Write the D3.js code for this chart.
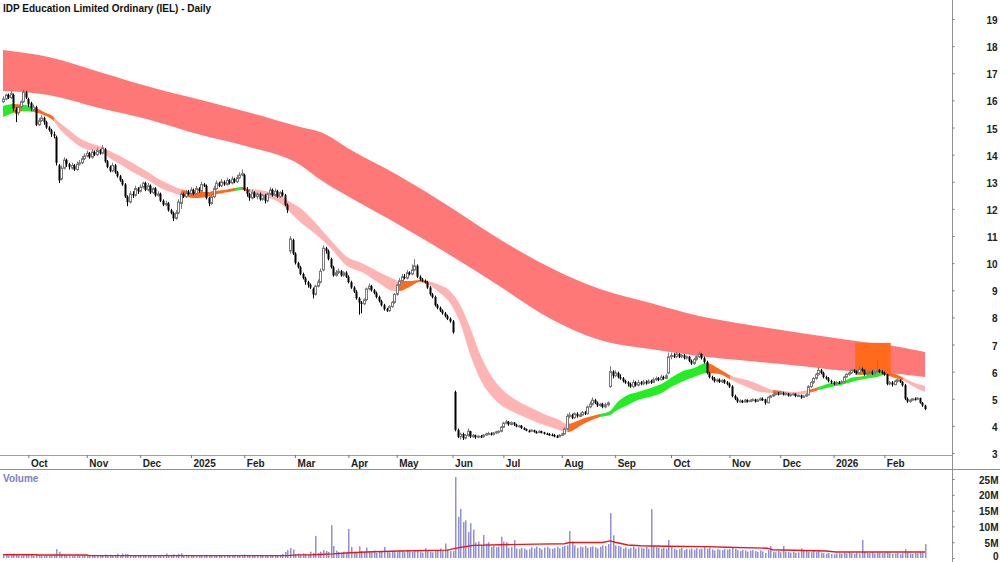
<!DOCTYPE html>
<html><head><meta charset="utf-8">
<script src="https://cdn.jsdelivr.net/npm/d3@7"></script>
<style>
html,body{margin:0;padding:0;background:#fff;}
svg{display:block;font-family:"Liberation Sans",Arial,sans-serif;}
</style></head><body>
<svg id="chart" width="1000" height="562"></svg>
<script>
// ---------------- DATA ----------------
const title = "IDP Education Limited Ordinary (IEL) - Daily";
const firstDay = "2024-09-17", lastDay = "2026-02-24";
const holidays = ["2024-12-25","2024-12-26","2025-01-01","2025-01-27","2025-04-18","2025-04-21","2025-04-25","2025-06-09","2025-12-25","2025-12-26","2026-01-01","2026-01-26"];
const monthLabels = ["Oct","Nov","Dec","2025","Feb","Mar","Apr","May","Jun","Jul","Aug","Sep","Oct","Nov","Dec","2026","Feb"];
const priceTicks = [3,4,5,6,7,8,9,10,11,12,13,14,15,16,17,18,19];
const volTicks = [0,5,10,15,20,25];

// daily OHLC, one line per month (Sep 2024 ... Feb 2026)
const open = [
15.95,16.05,16.20,16.10,16.20,15.65,15.55,15.75,15.95,16.30,
16.05,15.90,15.65,15.75,15.10,15.25,15.35,15.20,15.00,14.90,14.75,14.65,13.60,13.10,13.50,13.80,13.65,13.50,13.60,13.45,13.65,13.70,13.85,
13.95,14.05,13.90,14.10,14.00,14.15,14.05,14.20,13.75,13.55,13.40,13.60,13.35,13.20,13.05,12.90,12.45,12.25,12.55,12.50,12.75,
12.65,12.80,12.95,12.70,12.85,12.60,12.75,12.50,12.55,12.30,12.15,12.20,11.95,11.85,11.65,11.85,12.20,12.55,12.45,12.60,
12.55,12.70,12.55,12.75,12.65,12.90,12.85,12.40,12.20,12.45,12.75,12.95,12.85,13.00,12.90,13.05,12.95,13.10,13.00,13.15,13.25,
13.25,12.70,12.55,12.40,12.60,12.45,12.55,12.35,12.50,12.30,12.55,12.70,12.50,12.65,12.45,12.60,12.50,12.15,10.45,10.85,
10.35,10.00,9.85,9.60,9.45,9.30,9.20,9.05,8.85,9.15,9.30,9.75,10.55,10.45,10.15,9.85,9.55,9.65,9.70,9.55,9.65,
9.50,9.30,9.10,8.95,8.70,8.55,8.50,8.65,9.05,9.15,9.00,8.90,8.75,8.60,8.45,8.30,8.25,8.40,8.55,
8.85,9.20,9.35,9.50,9.45,9.65,9.60,9.75,9.90,9.50,9.40,9.35,9.30,9.10,8.85,8.75,8.45,8.35,8.25,8.15,8.05,7.95,
7.85,5.25,3.85,3.60,3.70,3.55,3.65,3.80,3.60,3.65,3.58,3.62,3.60,3.66,3.70,3.72,3.68,3.74,3.78,3.80,
3.95,4.10,4.15,4.05,4.12,4.05,3.98,4.00,3.92,3.88,3.82,3.80,3.84,3.78,3.75,3.80,3.76,3.72,3.70,3.68,3.66,3.62,3.60,
3.65,3.70,3.90,4.35,4.40,4.30,4.45,4.35,4.40,4.50,4.45,4.70,4.80,4.95,4.85,4.75,4.80,4.70,4.78,5.45,6.00,
5.85,5.95,5.80,5.75,5.65,5.60,5.55,5.45,5.60,5.50,5.60,5.55,5.62,5.58,5.65,5.60,5.70,5.75,5.70,5.80,5.75,5.95,
6.55,6.60,6.55,6.65,6.55,6.60,6.50,6.55,6.40,6.30,6.45,6.55,6.65,6.50,6.35,5.95,5.80,5.75,5.65,5.70,5.62,5.68,5.60,
5.55,5.45,5.10,5.00,4.90,4.92,4.88,4.95,4.90,4.93,4.97,4.90,4.95,5.00,4.98,4.85,5.05,5.10,5.15,5.20,
5.18,5.22,5.15,5.20,5.12,5.15,5.18,5.10,5.12,5.05,5.10,5.15,5.45,5.60,5.75,5.90,6.05,5.95,5.80,5.75,5.65,
5.60,5.55,5.60,5.58,5.62,5.80,5.90,5.95,6.05,6.00,5.95,6.10,6.05,5.90,5.95,6.00,5.92,5.98,6.05,6.00,
5.95,5.90,5.55,5.60,5.52,5.65,5.70,5.62,5.50,5.00,4.90,4.95,5.00,4.98,5.02,4.85,4.75];
const high = [
16.15,16.25,16.25,16.35,16.25,15.75,15.80,16.00,16.40,16.35,
16.10,15.95,15.85,15.80,15.35,15.45,15.40,15.25,15.05,14.95,14.85,14.70,13.65,13.60,13.90,13.85,13.70,13.70,13.65,13.75,13.80,13.95,14.05,
14.15,14.10,14.20,14.15,14.25,14.20,14.35,14.25,13.80,13.60,13.70,13.65,13.40,13.25,13.10,12.95,12.50,12.65,12.65,12.85,12.80,
12.90,13.00,13.00,12.95,12.90,12.80,12.80,12.65,12.60,12.35,12.30,12.25,12.00,11.90,11.95,12.35,12.65,12.60,12.70,12.70,
12.80,12.75,12.85,12.80,13.00,12.95,12.90,12.45,12.55,12.85,13.05,13.00,13.10,13.05,13.15,13.10,13.20,13.15,13.25,13.35,13.45,
13.30,12.80,12.60,12.70,12.65,12.60,12.60,12.55,12.55,12.60,12.80,12.75,12.75,12.70,12.65,12.70,12.55,12.20,11.00,10.90,
10.40,10.05,9.90,9.65,9.50,9.35,9.25,9.10,9.20,9.40,9.80,10.65,10.60,10.50,10.20,9.90,9.75,9.80,9.75,9.70,9.70,
9.55,9.35,9.15,9.00,8.75,8.60,8.70,9.10,9.25,9.20,9.05,8.95,8.80,8.65,8.50,8.35,8.45,8.60,8.90,
9.25,9.45,9.60,9.60,9.75,9.70,9.95,10.15,9.95,9.55,9.45,9.40,9.35,9.15,8.90,8.80,8.50,8.40,8.30,8.20,8.10,8.00,
7.90,5.30,3.90,3.75,3.75,3.70,3.90,3.82,3.70,3.68,3.66,3.66,3.70,3.75,3.78,3.76,3.78,3.82,3.84,4.00,
4.15,4.22,4.18,4.16,4.14,4.08,4.04,4.03,3.95,3.90,3.86,3.88,3.86,3.82,3.84,3.82,3.78,3.75,3.74,3.72,3.70,3.66,3.70,
3.75,3.95,4.45,4.50,4.45,4.50,4.50,4.48,4.55,4.55,4.75,4.90,5.05,5.00,4.90,4.85,4.85,4.85,4.90,6.20,6.05,
6.05,6.00,5.90,5.80,5.70,5.65,5.60,5.70,5.65,5.70,5.65,5.70,5.68,5.72,5.70,5.78,5.82,5.80,5.88,5.85,5.92,6.70,
6.70,6.68,6.72,6.68,6.65,6.65,6.60,6.58,6.45,6.50,6.60,6.75,6.68,6.55,6.40,6.00,5.85,5.80,5.75,5.75,5.72,5.72,5.65,
5.60,5.50,5.15,5.05,4.98,4.96,5.00,4.98,4.98,5.02,5.00,5.00,5.05,5.05,5.00,5.08,5.15,5.20,5.25,5.25,
5.28,5.26,5.24,5.22,5.20,5.22,5.20,5.16,5.15,5.14,5.20,5.50,5.65,5.80,5.95,6.15,6.10,6.00,5.85,5.80,5.70,
5.65,5.65,5.65,5.68,5.85,5.95,6.00,6.10,6.10,6.05,6.20,6.15,6.08,6.00,6.05,6.05,6.05,6.40,6.10,6.05,
6.00,5.92,5.65,5.65,5.70,5.75,5.72,5.65,5.55,5.05,4.98,5.02,5.05,5.06,5.04,4.88,4.78];
const low = [
15.90,16.00,16.05,16.05,15.60,15.20,15.45,15.70,15.90,16.05,
15.75,15.60,15.60,15.05,15.05,15.20,15.10,14.95,14.85,14.65,14.60,13.60,12.95,13.05,13.45,13.55,13.45,13.45,13.40,13.40,13.60,13.65,13.80,
13.90,13.85,13.85,13.95,13.95,14.00,14.00,13.70,13.50,13.35,13.35,13.30,13.15,13.00,12.85,12.40,12.10,12.20,12.40,12.45,12.55,
12.60,12.75,12.65,12.65,12.55,12.55,12.45,12.45,12.25,12.10,12.10,11.90,11.80,11.55,11.60,11.80,12.00,12.40,12.40,12.50,
12.50,12.50,12.50,12.60,12.60,12.80,12.35,12.10,12.15,12.40,12.70,12.80,12.80,12.85,12.85,12.90,12.90,12.95,12.95,13.10,13.20,
12.65,12.45,12.30,12.35,12.40,12.35,12.30,12.30,12.20,12.25,12.50,12.45,12.45,12.40,12.40,12.45,12.10,11.85,10.35,10.30,
9.95,9.80,9.55,9.40,9.20,9.10,9.05,8.70,8.80,9.10,9.25,9.70,10.35,10.10,9.80,9.50,9.50,9.60,9.50,9.50,9.45,
9.25,9.05,8.90,8.65,8.10,8.15,8.45,8.60,9.00,8.95,8.85,8.70,8.55,8.40,8.25,8.20,8.20,8.35,8.50,
8.80,9.15,9.30,9.40,9.40,9.55,9.55,9.70,9.45,9.35,9.30,9.25,9.05,8.80,8.70,8.40,8.30,8.20,8.10,8.00,7.90,7.80,
7.40,3.80,3.55,3.50,3.48,3.50,3.60,3.55,3.56,3.52,3.55,3.55,3.57,3.63,3.66,3.64,3.65,3.70,3.72,3.76,
3.92,4.05,4.00,4.02,4.00,3.95,3.94,3.88,3.84,3.80,3.76,3.78,3.75,3.72,3.74,3.72,3.68,3.66,3.64,3.62,3.58,3.55,3.58,
3.62,3.68,3.85,4.28,4.25,4.25,4.30,4.32,4.38,4.40,4.42,4.65,4.75,4.80,4.70,4.70,4.65,4.65,4.72,5.40,5.75,
5.80,5.75,5.70,5.60,5.55,5.45,5.40,5.40,5.45,5.45,5.50,5.50,5.52,5.55,5.55,5.58,5.65,5.65,5.68,5.70,5.72,5.90,
6.45,6.50,6.50,6.50,6.50,6.45,6.45,6.35,6.25,6.25,6.40,6.50,6.45,6.30,5.90,5.75,5.68,5.60,5.60,5.58,5.58,5.55,5.50,
5.40,5.05,4.95,4.85,4.86,4.84,4.86,4.86,4.88,4.90,4.86,4.88,4.92,4.92,4.78,4.84,5.02,5.06,5.12,5.12,
5.14,5.12,5.12,5.08,5.08,5.12,5.06,5.06,5.00,5.02,5.06,5.12,5.40,5.55,5.70,5.85,5.90,5.75,5.70,5.60,5.55,
5.50,5.52,5.54,5.55,5.60,5.78,5.85,5.92,5.95,5.90,5.92,6.00,5.85,5.86,5.92,5.88,5.90,5.95,5.95,5.90,
5.85,5.50,5.50,5.45,5.50,5.60,5.58,5.45,4.95,4.85,4.85,4.92,4.94,4.96,4.82,4.70,4.58];
const close = [
16.05,16.20,16.10,16.25,15.70,15.50,15.75,15.95,16.30,16.10,
15.85,15.70,15.75,15.10,15.25,15.35,15.20,15.00,14.90,14.75,14.70,13.70,13.05,13.50,13.80,13.65,13.55,13.60,13.45,13.65,13.70,13.85,13.95,
14.05,13.90,14.10,14.00,14.15,14.05,14.25,13.75,13.55,13.40,13.60,13.35,13.20,13.05,12.90,12.45,12.25,12.55,12.50,12.75,12.65,
12.80,12.95,12.70,12.85,12.60,12.75,12.50,12.55,12.30,12.15,12.20,11.95,11.85,11.65,11.85,12.25,12.55,12.45,12.60,12.55,
12.70,12.55,12.75,12.65,12.90,12.85,12.40,12.20,12.45,12.75,12.95,12.85,13.00,12.90,13.05,12.95,13.10,13.00,13.15,13.25,13.30,
12.70,12.55,12.40,12.60,12.45,12.55,12.35,12.50,12.30,12.55,12.70,12.50,12.65,12.45,12.60,12.50,12.15,11.95,10.90,10.35,
10.00,9.85,9.60,9.45,9.30,9.20,9.10,8.85,9.15,9.30,9.70,10.55,10.45,10.15,9.85,9.55,9.65,9.70,9.55,9.65,9.50,
9.30,9.10,8.95,8.70,8.55,8.50,8.65,9.05,9.15,9.00,8.90,8.75,8.60,8.45,8.30,8.25,8.40,8.55,8.85,
9.20,9.35,9.50,9.45,9.65,9.60,9.75,9.90,9.50,9.40,9.35,9.30,9.10,8.85,8.75,8.45,8.35,8.25,8.15,8.05,7.95,7.85,
7.45,3.85,3.60,3.70,3.55,3.65,3.80,3.60,3.65,3.58,3.62,3.60,3.66,3.70,3.72,3.68,3.74,3.78,3.80,3.95,
4.10,4.15,4.05,4.12,4.05,3.98,4.00,3.92,3.88,3.82,3.80,3.84,3.78,3.75,3.80,3.76,3.72,3.70,3.68,3.66,3.62,3.60,3.65,
3.70,3.88,4.35,4.40,4.30,4.45,4.35,4.40,4.50,4.45,4.70,4.80,4.95,4.85,4.75,4.80,4.70,4.78,4.85,6.00,5.85,
5.95,5.80,5.75,5.65,5.60,5.55,5.45,5.60,5.50,5.60,5.55,5.62,5.58,5.65,5.60,5.70,5.75,5.70,5.80,5.75,5.85,6.55,
6.60,6.55,6.65,6.55,6.60,6.50,6.55,6.40,6.30,6.45,6.55,6.65,6.50,6.35,5.95,5.80,5.75,5.65,5.70,5.62,5.68,5.60,5.55,
5.45,5.10,5.00,4.90,4.92,4.88,4.95,4.90,4.93,4.97,4.90,4.95,5.00,4.98,4.85,5.05,5.10,5.15,5.20,5.18,
5.22,5.15,5.20,5.12,5.15,5.18,5.10,5.12,5.05,5.10,5.15,5.45,5.60,5.75,5.90,6.05,5.95,5.80,5.75,5.65,5.60,
5.55,5.60,5.58,5.62,5.80,5.90,5.95,6.05,6.00,5.95,6.10,6.05,5.90,5.95,6.00,5.92,5.98,6.05,6.00,5.95,
5.90,5.55,5.60,5.52,5.65,5.70,5.62,5.50,5.00,4.90,4.95,5.00,4.98,5.02,4.85,4.75,4.62];
// daily volume, millions
const volume = [
0.8,1.0,0.7,0.9,1.4,1.1,0.8,0.7,0.9,1.0,
0.9,1.0,0.8,1.2,0.9,0.8,0.7,0.9,0.8,0.8,1.0,2.8,2.0,1.3,1.0,0.9,0.8,0.7,0.8,0.9,0.7,0.8,0.9,
0.8,0.7,0.9,1.0,0.8,0.7,0.9,1.1,0.9,1.0,0.8,0.9,1.3,0.8,1.4,1.3,1.2,0.8,0.9,1.0,0.8,
0.9,0.8,0.7,0.9,0.8,0.7,0.8,0.9,1.0,0.8,1.4,0.9,0.8,1.2,1.0,1.3,1.5,0.7,0.5,0.6,
0.7,0.8,0.6,0.9,0.8,0.7,1.0,0.9,0.8,0.7,0.8,0.9,0.7,0.8,0.6,0.7,0.8,0.7,0.9,0.8,1.0,
1.1,0.9,0.8,0.7,0.8,0.9,0.8,0.7,0.9,0.8,1.0,0.9,0.8,0.9,1.0,1.3,1.9,2.5,3.2,2.7,
1.2,1.4,1.0,1.5,1.3,1.1,2.0,1.6,7.0,1.5,2.0,2.5,2.2,1.9,10.4,3.8,2.3,1.9,1.7,2.0,1.6,
9.2,3.5,2.0,1.8,3.7,2.2,1.9,3.3,2.1,1.8,2.4,1.6,1.9,2.2,3.5,2.0,1.8,2.3,2.1,
2.0,2.4,2.2,1.8,2.6,2.1,1.9,2.5,2.3,2.0,1.7,3.1,2.2,2.0,1.8,2.4,2.6,3.0,2.2,4.6,2.8,2.2,
2.3,25.6,13.0,15.5,11.4,11.9,8.2,11.0,9.0,4.9,5.2,4.0,7.3,4.6,5.0,3.5,3.8,3.4,3.6,6.7,
5.2,5.0,3.2,3.5,5.7,3.0,2.8,3.2,3.0,2.6,2.8,3.4,3.0,3.6,3.2,2.7,3.3,3.5,3.0,2.9,3.2,3.6,3.0,
3.5,3.8,4.0,8.5,5.2,4.0,3.2,3.6,3.4,3.8,3.2,3.5,3.7,3.4,3.0,3.6,4.0,3.8,4.4,14.2,7.2,
4.0,3.8,3.6,3.0,3.4,2.8,3.2,3.6,3.0,3.4,3.2,3.0,3.5,2.9,15.5,3.8,3.4,3.2,3.0,3.3,2.9,5.7,
3.4,3.0,2.6,2.8,3.2,2.5,2.9,2.7,3.0,2.6,3.1,2.8,3.0,3.6,2.9,3.3,2.7,2.4,2.8,2.6,2.5,2.9,2.7,
2.8,3.4,2.9,2.5,2.2,2.6,2.4,2.0,2.3,2.5,2.2,1.9,2.4,2.1,1.6,2.5,3.8,2.0,1.8,2.2,
1.8,3.8,2.0,1.9,1.7,2.0,1.6,1.8,3.0,2.2,2.4,2.0,1.8,2.5,1.9,2.2,1.7,1.5,1.4,1.6,1.3,
1.2,1.4,1.5,1.3,1.6,1.4,1.8,1.5,1.3,1.7,1.4,5.7,1.9,1.6,1.5,1.8,1.4,1.7,1.6,1.5,
1.6,2.0,1.5,1.3,1.4,1.6,1.2,1.5,2.8,1.7,1.4,1.3,1.6,1.5,1.9,1.6,4.4];
// volume average (red line), read at trading-day index
const volAvgAt = [0,13,14,33,34,112,116,122,130,135,143,156,175,179,183,185,196,210,221,223,236,239,241,246,251,261,277,285,301,303,324,328,363];
const volAvg   = [1.05,1.05,0.95,0.95,0.75,0.75,1.0,1.05,1.3,1.6,1.9,2.2,2.5,3.2,3.7,4.0,4.2,4.4,4.5,4.9,4.9,5.4,5.0,4.1,3.9,3.7,3.6,3.4,3.1,2.6,2.2,1.9,1.9];
// long-term average band (edges), read at trading-day index
const longAt    = [0,18,38,58,78,97,117,125,137,156,176,196,215,235,255,274,294,314,333,353,363];
const longUpper = [17.86,17.60,17.05,16.49,16.01,15.55,15.02,14.83,14.17,13.21,12.07,10.85,9.86,9.05,8.53,8.05,7.72,7.42,7.17,6.91,6.72];
const longLower = [16.35,16.20,15.72,15.28,14.72,14.28,13.62,13.07,12.40,11.41,10.30,9.12,7.98,7.17,6.83,6.58,6.39,6.21,6.02,5.91,5.80];
// short-term average band (edges)
const shortAt    = [0,4,9,12,17,20,22,26,30,34,38,42,46,51,57,62,66,71,76,80,83,87,91,94,97,101,105,109,113,117,122,129,135,142,148,154,156,160,164,167,172,176,180,184,188,192,196,202,208,213,219,222,229,235,239,242,246,250,255,260,263,267,272,277,282,286,293,298,303,307,312,317,321,326,330,334,339,344,347,351,354,358,363];
const shortUpper = [15.79,15.87,15.83,15.76,15.53,15.39,15.20,14.91,14.61,14.43,14.32,14.13,13.95,13.69,13.36,13.06,12.88,12.70,12.62,12.62,12.66,12.70,12.77,12.81,12.73,12.70,12.62,12.51,12.25,12.03,11.59,10.85,10.26,9.97,9.67,9.41,9.34,9.34,9.38,9.34,9.19,8.97,8.46,7.61,6.61,5.88,5.40,4.95,4.66,4.44,4.22,4.07,4.29,4.44,4.55,4.88,5.14,5.25,5.40,5.58,5.77,5.99,6.13,6.32,6.10,5.88,5.69,5.51,5.32,5.29,5.25,5.32,5.43,5.58,5.62,5.77,5.84,5.95,5.99,5.92,5.80,5.62,5.47];
const shortLower = [15.39,15.53,15.61,15.57,15.42,15.24,14.98,14.61,14.32,14.17,14.13,13.88,13.65,13.36,13.06,12.77,12.62,12.47,12.40,12.44,12.51,12.59,12.66,12.70,12.62,12.55,12.40,12.22,11.88,11.52,11.15,10.56,9.93,9.64,9.27,8.97,8.97,9.12,9.30,9.23,8.90,8.53,7.79,6.61,5.69,5.14,4.77,4.47,4.22,4.03,3.85,3.77,4.10,4.33,4.40,4.59,4.77,4.95,5.07,5.25,5.43,5.62,5.80,5.95,5.91,5.73,5.43,5.25,5.21,5.18,5.14,5.21,5.32,5.43,5.51,5.62,5.73,5.80,5.88,5.77,5.69,5.47,5.25];
// short band state by trading-day range: up / mix / down
const shortRunFrom  = [0,4,7.5,12,20,70.5,91.3,94.1,97.2,155.5,167,222.4,235,277.2,286.2,303.1,306.7,316.5,320.5,347.2,354.3];
const shortRunTo    = [4,7.5,12,20,70.5,91.3,94.1,97.2,155.5,167,222.4,235,277.2,286.2,303.1,306.7,316.5,320.5,347.2,354.3,363];
const shortRunState = ["up","mix","up","mix","down","mix","up","mix","down","mix","down","mix","up","mix","down","mix","down","mix","up","mix","down"];
// long band tangle zone (trading-day index range, price top/bottom)
const zoneAt = [336, 349];
const zonePrice = [7.06, 5.88];

// ---------------- DRAW ----------------
const stateColor = {up:"#22ee22", mix:"#ff6a1c", down:"#ffb4b4"};
const W = 1000, H = 562, axisX = 952;

const days = [];
for (let d = new Date(firstDay+"T00:00:00Z"); d <= new Date(lastDay+"T00:00:00Z"); d.setUTCDate(d.getUTCDate()+1)) {
  const wd = d.getUTCDay(), s = d.toISOString().slice(0,10);
  if (wd === 0 || wd === 6 || holidays.includes(s)) continue;
  days.push(s);
}
const n = close.length;
const monthStarts = [];
for (let i = 1; i < days.length; i++) if (days[i].slice(0,7) !== days[i-1].slice(0,7)) monthStarts.push(i);

const x = d3.scaleLinear().domain([0, n-1]).range([3, 925]);
const y = d3.scaleLinear().domain([3, 19]).range([453, 19]);
const yv = d3.scaleLinear().domain([0, 25]).range([558, 479]);
const step = x(1) - x(0);

const svg = d3.select("#chart");
const defs = svg.append("defs");
defs.append("clipPath").attr("id","plotClip").append("rect").attr("x",0).attr("y",0).attr("width",axisX).attr("height",455);

const plot = svg.append("g").attr("clip-path","url(#plotClip)");

// long band
const longArea = d3.area().curve(d3.curveMonotoneX)
  .x((d,k)=>x(longAt[k])).y0((d,k)=>y(longLower[k])).y1((d,k)=>y(longUpper[k]));
plot.append("path").datum(longAt).attr("d", longArea).attr("fill","#ff7878");

// tangle zone
plot.append("rect")
  .attr("x", x(zoneAt[0]) - step/2).attr("width", x(zoneAt[1]) - x(zoneAt[0]) + step)
  .attr("y", y(zonePrice[0])).attr("height", y(zonePrice[1]) - y(zonePrice[0]))
  .attr("fill","#ff6a1c");

// short band, coloured by state
const shortArea = d3.area().curve(d3.curveMonotoneX)
  .x((d,k)=>x(shortAt[k])).y0((d,k)=>y(shortLower[k])).y1((d,k)=>y(shortUpper[k]));
shortRunState.forEach((st,k)=>{
  const id = "run"+k;
  const x0 = k === 0 ? 0 : x(shortRunFrom[k]);
  const x1 = k === shortRunState.length-1 ? axisX : x(shortRunTo[k]);
  defs.append("clipPath").attr("id",id).append("rect").attr("x",x0).attr("y",0).attr("width",x1-x0+0.3).attr("height",460);
  plot.append("path").datum(shortAt).attr("d", shortArea).attr("fill", stateColor[st]).attr("clip-path","url(#"+id+")");
});

// candles
const cg = plot.append("g");
d3.range(n).forEach(i=>{
  const cx = Math.round(x(i));
  const up = close[i] >= open[i];
  const col = up ? "#7a7a7a" : "#000";
  cg.append("line").attr("x1",cx+0.5).attr("x2",cx+0.5).attr("y1",y(high[i])).attr("y2",y(low[i]))
    .attr("stroke",col).attr("stroke-width",1);
  const top = y(Math.max(open[i],close[i])), bot = y(Math.min(open[i],close[i]));
  if (up) {
    cg.append("rect").attr("x",cx-0.5).attr("width",2).attr("y",top).attr("height",Math.max(bot-top,1))
      .attr("fill","#fff").attr("stroke",col).attr("stroke-width",1);
  } else {
    cg.append("rect").attr("x",cx-0.5).attr("width",2).attr("y",top).attr("height",Math.max(bot-top,1.5))
      .attr("fill","#000");
  }
});

// title
svg.append("text").attr("x",3).attr("y",12).attr("font-size",10).attr("font-weight","bold").attr("fill","#111").text(title);

// frame lines
svg.append("line").attr("x1",0).attr("x2",axisX).attr("y1",455.5).attr("y2",455.5).attr("stroke","#a0a0a0").attr("stroke-width",1.2);
svg.append("line").attr("x1",0).attr("x2",W).attr("y1",469.5).attr("y2",469.5).attr("stroke","#909090").attr("stroke-width",1);
svg.append("line").attr("x1",axisX+0.5).attr("x2",axisX+0.5).attr("y1",0).attr("y2",H).attr("stroke","#909090").attr("stroke-width",1);

// bottom (date) axis
const xAxis = d3.axisBottom(x).tickValues(monthStarts).tickFormat((d,k)=>monthLabels[k]).tickSize(3).tickSizeOuter(0);
const gx = svg.append("g").attr("transform","translate(0,455)").call(xAxis);
gx.select(".domain").remove();
gx.selectAll(".tick line").attr("stroke","#777");
gx.selectAll(".tick text").attr("text-anchor","start").attr("x",2).attr("y",5)
  .attr("font-size",10).attr("font-weight","bold").attr("font-family","Liberation Sans, Arial, sans-serif").attr("fill","#222");

// price axis
const yAxis = d3.axisRight(y).tickValues(priceTicks).tickSize(2);
const gy = svg.append("g").attr("transform","translate("+(axisX+0.5)+",0)").call(yAxis);
gy.select(".domain").remove();
gy.selectAll(".tick line").attr("stroke","#777");
gy.selectAll(".tick text").attr("text-anchor","end").attr("x",45).attr("dy","0.45em")
  .attr("font-size",10).attr("font-weight","bold").attr("font-family","Liberation Sans, Arial, sans-serif").attr("fill","#222");

// volume panel
const vg = svg.append("g");
d3.range(n).forEach(i=>{
  vg.append("rect").attr("x",Math.round(x(i))).attr("width",1.5)
    .attr("y",yv(volume[i])).attr("height",yv(0)-yv(volume[i])).attr("fill","#9090d6");
});
const vLine = d3.line().x((d,k)=>x(volAvgAt[k])).y((d,k)=>yv(volAvg[k]));
vg.append("path").datum(volAvgAt).attr("d",vLine).attr("fill","none").attr("stroke","#e81818").attr("stroke-width",1.4);

svg.append("text").attr("x",3).attr("y",482).attr("font-size",10).attr("font-weight","bold").attr("fill","#7e7ec0").text("Volume");

const vAxis = d3.axisRight(yv).tickValues(volTicks).tickFormat(d=> d===0 ? "0" : d+"M").tickSize(2);
const gv = svg.append("g").attr("transform","translate("+(axisX+0.5)+",0)").call(vAxis);
gv.select(".domain").remove();
gv.selectAll(".tick line").attr("stroke","#777");
gv.selectAll(".tick text").attr("text-anchor","end").attr("x",46).attr("dy",d=> d===0 ? "0.1em" : "0.4em")
  .attr("font-size",10).attr("font-weight","bold").attr("font-family","Liberation Sans, Arial, sans-serif").attr("fill","#222");
</script>
</body></html>
